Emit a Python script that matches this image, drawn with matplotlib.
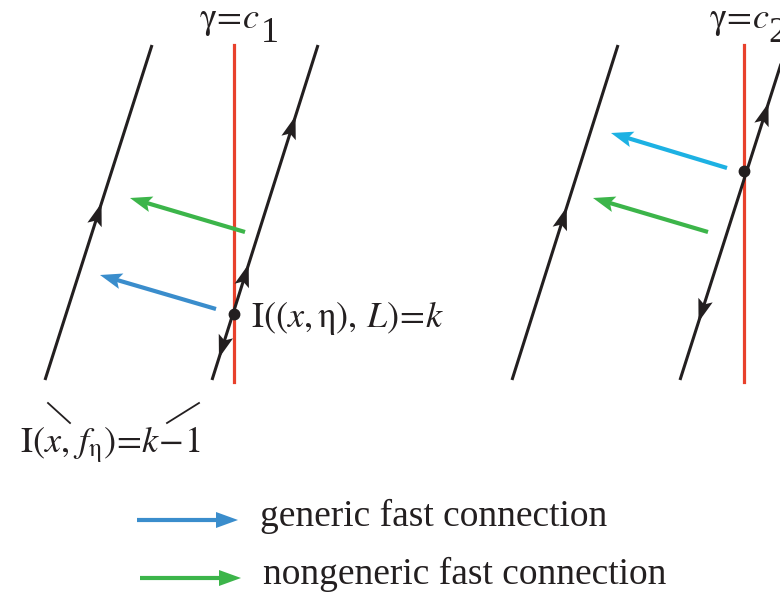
import numpy as np
import matplotlib.pyplot as plt

plt.rcParams['font.family'] = ['Liberation Serif', 'DejaVu Serif']
plt.rcParams['mathtext.fontset'] = 'stix'

# pixel-space geometry of the sketch (x right, y down)
slanted_lines = [((45, 380), (152, 45)), ((212, 380), (318, 45)),
                 ((512, 380), (618, 45)), ((680, 380), (787, 45))]
red_lines_x = [234, 744]
red_top, red_bottom = 45, 382
dots = [(234, 314), (744, 171)]

# direction markers on the black lines: (tip y, line index, +1 up / -1 down)
line_arrows = [(203, 0, 1), (116, 1, 1), (264, 1, 1), (358, 1, -1),
               (207, 2, 1), (103, 3, 1), (322, 3, -1)]

# fast connections: (tail, head, colour)
connections = [((245, 232), (130, 198), '#3cb54a'),
               ((216, 309), (100, 275), '#3a8dcc'),
               ((727, 168), (611, 133), '#1db1e3'),
               ((708, 232), (593, 198), '#3cb54a')]

legend_rows = [((137, 520), (238, 520), '#3a8dcc', 'generic fast connection'),
               ((140, 578), (241, 578), '#3cb54a', 'nongeneric fast connection')]

ink = '#231f20'

fig = plt.figure(figsize=(7.8, 5.99), dpi=100)
ax = fig.add_axes([0, 0, 1, 1])
ax.set_xlim(0, 780)
ax.set_ylim(599, 0)
ax.axis('off')

for x in red_lines_x:
    ax.plot([x, x], [red_top, red_bottom], color='#e8412c', lw=2.3, zorder=1)

for (x0, y0), (x1, y1) in slanted_lines:
    ax.plot([x0, x1], [y0, y1], color=ink, lw=2.2, zorder=2,
            solid_capstyle='butt')

def stealth(tip, direction, length, half_width, notch, color):
    d = np.asarray(direction, float)
    d /= np.hypot(*d)
    n = np.array([-d[1], d[0]])
    tip = np.asarray(tip, float)
    base = tip - d * length
    pts = [tip, base + n * half_width, tip - d * length * (1 - notch),
           base - n * half_width]
    ax.fill(*zip(*pts), color=color, lw=0, zorder=3)

for ty, i, d in line_arrows:
    (x0, y0), (x1, y1) = slanted_lines[i]
    tx = x0 + (x1 - x0) * (ty - y0) / (y1 - y0)
    stealth((tx, ty), ((x1 - x0) * d, (y1 - y0) * d), 23, 7.5, 0.2, ink)

for x, y in dots:
    ax.plot(x, y, 'o', color=ink, ms=7.5, zorder=4)

def draw_arrow(tail, head, color, notch=0.2):
    tail = np.asarray(tail, float)
    head = np.asarray(head, float)
    d = head - tail
    d /= np.hypot(*d)
    ax.plot([tail[0], head[0] - d[0] * 12], [tail[1], head[1] - d[1] * 12],
            color=color, lw=3, solid_capstyle='butt', zorder=3)
    stealth(head, d, 22, 8, notch, color)

for tail, head, color in connections:
    draw_arrow(tail, head, color)

for tail, head, color, label in legend_rows:
    draw_arrow(tail, head, color, notch=0.0)
    ax.text(head[0] + 22, head[1] - 4, label, fontsize=27, va='center',
            ha='left', color=ink)

# labels
ax.text(199, 22, r'$\mathrm{\gamma}\!=\!c$', fontsize=26, va='center', ha='left', color=ink)
ax.text(261, 33, '1', fontsize=26, va='center', ha='left', color=ink)
ax.text(709, 22, r'$\mathrm{\gamma}\!=\!c$', fontsize=26, va='center', ha='left', color=ink)
ax.text(768, 33, '2', fontsize=26, va='center', ha='left', color=ink)

ax.text(251, 318, r'$\mathrm{I}((x,\mathrm{\eta}),\,L)\!=\!k$', fontsize=26,
        va='center', ha='left', color=ink)
ax.text(20, 445, r'$\mathrm{I}(x,\,f_{\mathrm{\eta}})\!=\!k\!-\!1$', fontsize=26,
        va='center', ha='left', color=ink)

ax.plot([48, 70], [403, 423], color=ink, lw=1.3)
ax.plot([199, 167], [403, 423], color=ink, lw=1.3)

fig.savefig('out.png', dpi=100)
